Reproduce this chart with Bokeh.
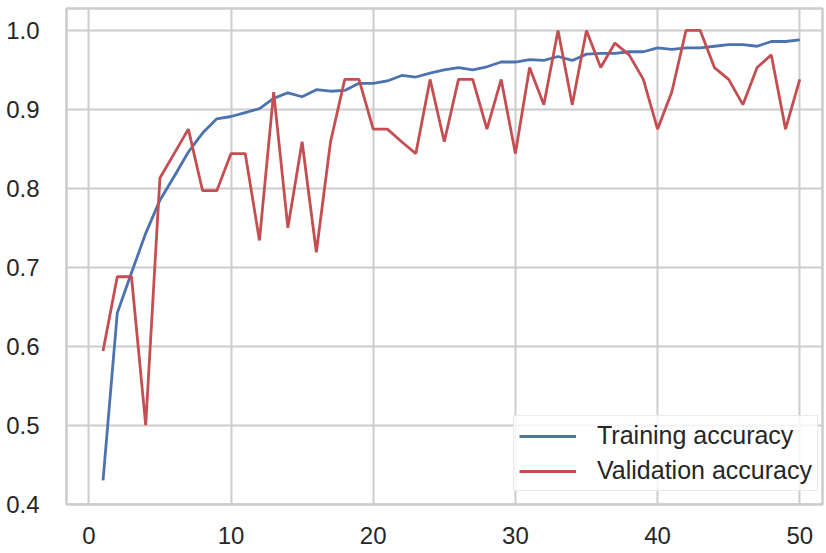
from bokeh.plotting import figure
from bokeh.models import Range1d, FixedTicker, Legend, LegendItem, NumeralTickFormatter
from bokeh.embed import file_html
from bokeh.resources import INLINE

epochs = list(range(1, 51))
train_acc = [0.430, 0.642, 0.693, 0.743, 0.785, 0.815, 0.846, 0.870, 0.888, 0.891,
             0.896, 0.901, 0.914, 0.921, 0.916, 0.925, 0.923, 0.924, 0.933, 0.933,
             0.936, 0.943, 0.941, 0.946, 0.950, 0.953, 0.950, 0.954, 0.960, 0.960,
             0.963, 0.962, 0.967, 0.962, 0.970, 0.971, 0.971, 0.973, 0.973, 0.978,
             0.976, 0.978, 0.978, 0.980, 0.982, 0.982, 0.980, 0.986, 0.986, 0.988]
val_acc = [0.594, 0.688, 0.688, 0.500, 0.813, 0.844, 0.875, 0.797, 0.797, 0.844,
           0.844, 0.734, 0.922, 0.750, 0.859, 0.719, 0.859, 0.938, 0.938, 0.875,
           0.875, 0.859, 0.844, 0.938, 0.859, 0.938, 0.938, 0.875, 0.938, 0.844,
           0.953, 0.906, 1.000, 0.906, 1.000, 0.953, 0.984, 0.969, 0.938, 0.875,
           0.922, 1.000, 1.000, 0.953, 0.938, 0.906, 0.953, 0.969, 0.875, 0.938]
x_ticks = [0, 10, 20, 30, 40, 50]
y_ticks = [0.4, 0.5, 0.6, 0.7, 0.8, 0.9, 1.0]
labels = ["Training accuracy", "Validation accuracy"]

FONT = "Liberation Sans"
GRID = "#cccccc"
TXT = "#262626"

p = figure(width=826, height=553, output_backend="svg", toolbar_location=None,
           x_range=Range1d(-1.57, 51.6), y_range=Range1d(0.3995, 1.0278),
           min_border_left=66, min_border_right=4, min_border_top=8, min_border_bottom=49)

p.background_fill_color = "white"
p.border_fill_color = "white"
p.outline_line_color = GRID
p.outline_line_width = 2.5

for ax in (p.xaxis, p.yaxis):
    ax.axis_line_color = None
    ax.major_tick_line_color = None
    ax.minor_tick_line_color = None
    ax.major_label_text_font = FONT
    ax.major_label_text_font_size = "24px"
    ax.major_label_text_color = TXT

p.xaxis.ticker = FixedTicker(ticks=x_ticks)
p.yaxis.ticker = FixedTicker(ticks=y_ticks)
p.yaxis.formatter = NumeralTickFormatter(format="0.0")
p.xaxis.major_label_standoff = 16
p.yaxis.major_label_standoff = 21

p.xgrid.ticker = FixedTicker(ticks=x_ticks)
p.ygrid.ticker = FixedTicker(ticks=y_ticks)
for g in (p.xgrid, p.ygrid):
    g.grid_line_color = GRID
    g.grid_line_width = 2

r1 = p.line(epochs, train_acc, line_color="#4c72b0", line_width=2.8)
r2 = p.line(epochs, val_acc, line_color="#c44e52", line_width=2.8)

legend = Legend(items=[LegendItem(label=labels[0], renderers=[r1]),
                       LegendItem(label=labels[1], renderers=[r2])],
                location=(447, 13), margin=0, padding=5, spacing=6,
                glyph_width=57, glyph_height=26, label_height=26, label_standoff=21,
                label_text_font=FONT, label_text_font_size="25px", label_text_color=TXT,
                border_line_color="#d6d6d6", border_line_width=1.5,
                background_fill_color="white", background_fill_alpha=0.8)
p.add_layout(legend)

open("out.html", "w").write(file_html(p, INLINE))
